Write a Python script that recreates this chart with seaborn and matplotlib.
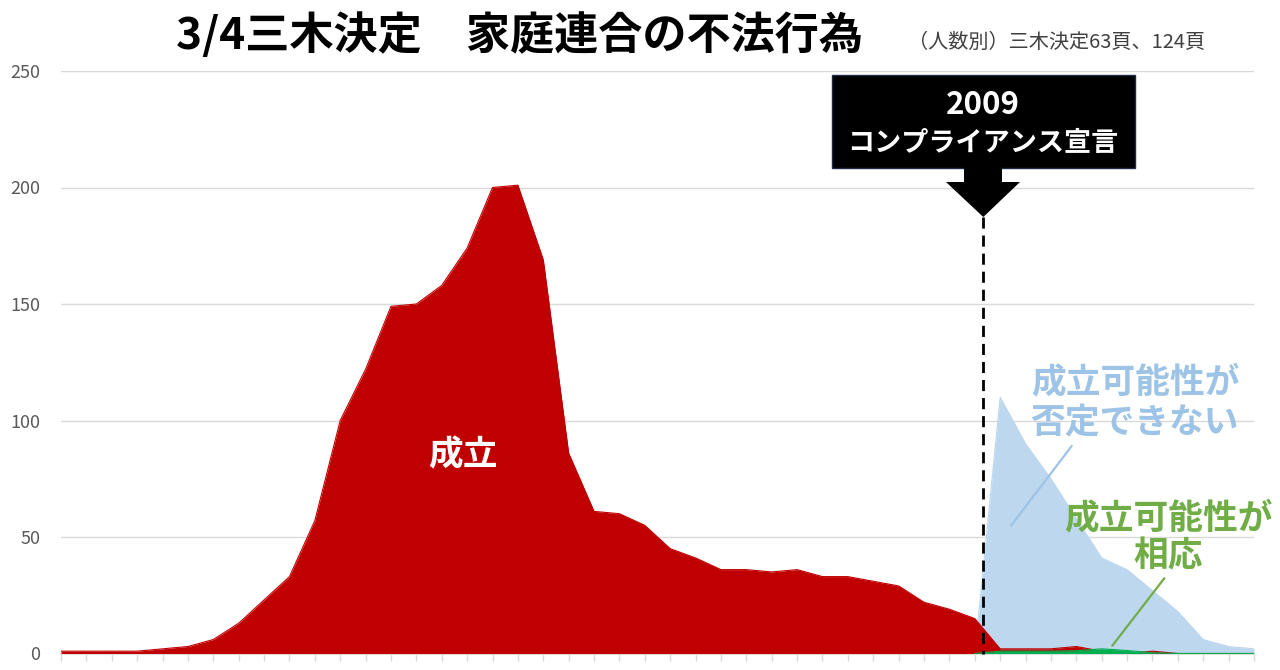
import numpy as np
import pandas as pd
import matplotlib.pyplot as plt
import seaborn as sns
from matplotlib.patches import Polygon, Rectangle
from matplotlib.lines import Line2D

# 人数 (index = 年の順番, 48点)
idx = np.arange(48)
seiritsu = [1, 1, 1, 1, 2, 3, 6, 13, 23, 33, 57, 100, 122, 149, 150, 158, 174, 200, 201, 169,
            86, 61, 60, 55, 45, 41, 36, 36, 35, 36, 33, 33, 31, 29, 22, 19, 15,
            2, 2, 2, 3, 1, 0, 1, 0, 0, 0, 0]
nan = np.nan
hitei_dekinai = [nan] * 36 + [0, 110, 90, 75, 58, 41, 36, 27, 18, 6, 3, 2]
souou = [nan] * 36 + [0, 1, 1, 1, 1.2, 2, 1.3, 0.3, 0, 0, 0, 0]
yticks = [0, 50, 100, 150, 200, 250]

df = pd.DataFrame({"idx": idx, "seiritsu": seiritsu,
                   "hitei": hitei_dekinai, "souou": souou})

RED = "#C00000"
BLUE = "#BDD7EE"
GREEN = "#00B050"
BLUE_TXT = "#9DC3E6"
GREEN_TXT = "#70AD47"
GRID = "#D9D9D9"

sns.set_theme(style="white")
plt.rcParams['font.family'] = ['Noto Sans CJK JP', 'DejaVu Sans']

W, H = 1280, 670
fig = plt.figure(figsize=(W / 100, H / 100), dpi=100)
ax = fig.add_axes([61 / W, (H - 653.5) / H, (1254 - 61) / W, (653.5 - 71) / H])

def fx(x):
    return x / W

def fy(y):
    return 1 - y / H

# 面グラフ（青 → 赤 → 緑の順に重ねる）
for col, c, z in [("hitei", BLUE, 2), ("seiritsu", RED, 3), ("souou", GREEN, 4)]:
    ax.fill_between(df["idx"], 0, df[col], color=c, lw=0, zorder=z)
    sns.lineplot(data=df, x="idx", y=col, color=c, lw=0.8, ax=ax, zorder=z)

ax.set_xlim(0, 47)
ax.set_ylim(0, 250)
ax.set_xticks(idx)
ax.set_xticklabels([])
ax.set_yticks(yticks)
ax.set_yticklabels([str(v) for v in yticks], fontsize=13, color="#595959")
ax.tick_params(axis="x", direction="out", length=5, color=GRID, width=1, bottom=True)
ax.tick_params(axis="y", length=0, pad=15)
ax.grid(axis="y", color=GRID, lw=1)
ax.set_axisbelow(True)
for s in ["top", "right", "left"]:
    ax.spines[s].set_visible(False)
ax.spines["bottom"].set_color(GRID)
ax.set_xlabel("")
ax.set_ylabel("")

# タイトル
fig.text(fx(519), fy(35), "3/4三木決定　家庭連合の不法行為", fontsize=31.8,
         fontweight="bold", ha="center", va="center", color="black")
fig.text(fx(1057), fy(42), "（人数別）三木決定63頁、124頁", fontsize=14.5,
         ha="center", va="center", color="#404040")

# 2009 コンプライアンス宣言の矢印
fig.add_artist(Rectangle((fx(831.7), fy(168)), fx(1135 - 831.7), 93 / H,
                         transform=fig.transFigure, facecolor="black",
                         edgecolor="#1F2A44", lw=1))
arrow_px = [(964, 167), (1002, 167), (1002, 182), (1020, 182), (983.3, 217),
            (946, 182), (964, 182)]
fig.add_artist(Polygon([(fx(a), fy(b)) for a, b in arrow_px], closed=True,
                       transform=fig.transFigure, facecolor="black", lw=0))
fig.text(fx(983), fy(105), "2009", fontsize=22.5, fontweight="bold",
         color="white", ha="center", va="center")
fig.text(fx(983), fy(143), "コンプライアンス宣言", fontsize=19.5, fontweight="bold",
         color="white", ha="center", va="center")
fig.add_artist(Line2D([fx(983.3), fx(983.3)], [fy(217), fy(653.5)],
                      transform=fig.transFigure, color="black", lw=2,
                      linestyle=(0, (4, 2.5))))

# ラベル
fig.text(fx(463), fy(455), "成立", fontsize=25, fontweight="bold",
         color="white", ha="center", va="center")
fig.text(fx(1135), fy(402), "成立可能性が\n否定できない", fontsize=25,
         fontweight="bold", color=BLUE_TXT, ha="center", va="center",
         linespacing=1.2)
fig.add_artist(Line2D([fx(1071.7), fx(1011)], [fy(446), fy(525.7)],
                      transform=fig.transFigure, color=BLUE_TXT, lw=1.6))
fig.text(fx(1168), fy(537), "成立可能性が\n相応", fontsize=25,
         fontweight="bold", color=GREEN_TXT, ha="center", va="center",
         linespacing=1.12)
fig.add_artist(Line2D([fx(1164.3), fx(1112.3)], [fy(578.3), fy(645.7)],
                      transform=fig.transFigure, color=GREEN_TXT, lw=1.6))

fig.savefig("out.png", dpi=100)
